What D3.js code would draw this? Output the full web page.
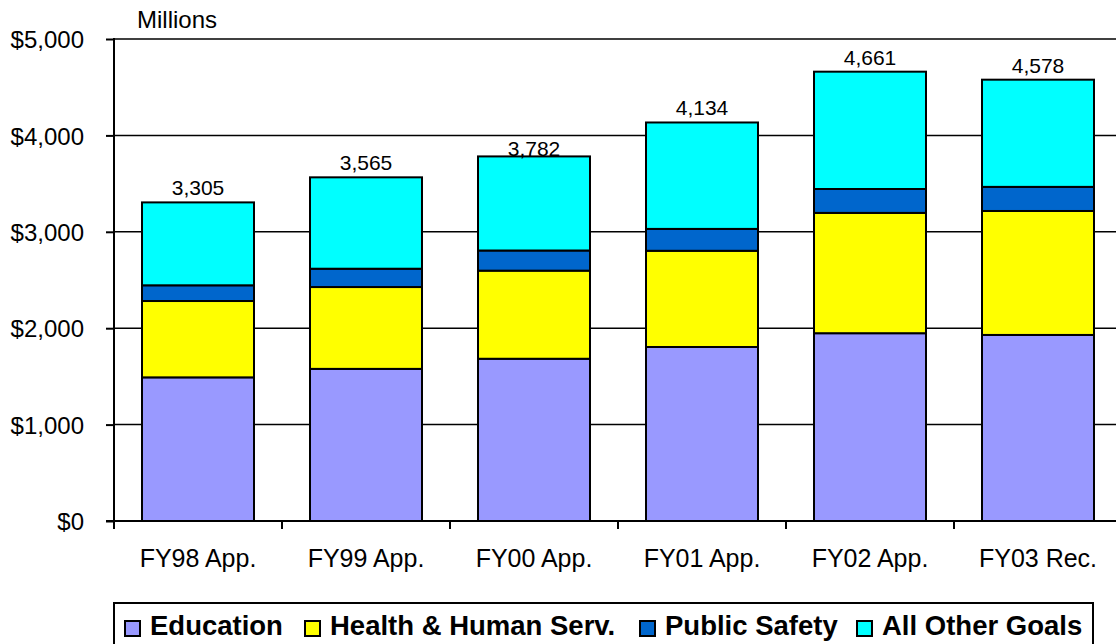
<!DOCTYPE html>
<html>
<head>
<meta charset="utf-8">
<script src="https://cdn.jsdelivr.net/npm/d3@7"></script>
<style>
  body { margin: 0; background: #fff; }
  svg { display: block; font-family: "Liberation Sans", Arial, sans-serif; }
</style>
</head>
<body>
<div id="chart"></div>
<script>
const width = 1116, height = 644;

// values in $ millions
const categories = ["FY98 App.", "FY99 App.", "FY00 App.", "FY01 App.", "FY02 App.", "FY03 Rec."];
const education = [1490, 1578, 1683, 1805, 1948, 1930];
const healthHuman = [792, 849, 914, 998, 1248, 1286];
const publicSafety = [163, 190, 209, 227, 248, 250];
const allOther = [860, 948, 976, 1104, 1217, 1112];
const totals = [3305, 3565, 3782, 4134, 4661, 4578];
const seriesNames = ["Education", "Health & Human Serv.", "Public Safety", "All Other Goals"];
const seriesKeys = ["edu", "hhs", "ps", "other"];
const colors = ["#9999FF", "#FFFF00", "#0066CC", "#00FFFF"];
const yTicks = [0, 1000, 2000, 3000, 4000, 5000];

// legend layout (swatch left edges)
const legendX = [125, 305, 640, 857];

const rows = categories.map(function(c, i) {
  return { cat: c, edu: education[i], hhs: healthHuman[i], ps: publicSafety[i], other: allOther[i], total: totals[i] };
});

const svg = d3.select("#chart").append("svg")
    .attr("width", width)
    .attr("height", height);

const x = d3.scaleBand()
    .domain(categories)
    .range([114, 1122])
    .paddingInner(1 / 3)
    .paddingOuter(1 / 6);

const y = d3.scaleLinear()
    .domain([0, 5000])
    .range([521, 39]);

// gridlines
svg.append("g").selectAll("line")
  .data(yTicks.filter(d => d > 0))
  .enter().append("line")
    .attr("x1", 114).attr("x2", width)
    .attr("y1", d => y(d)).attr("y2", d => y(d))
    .style("stroke", "#000")
    .style("stroke-width", 1.5);

// y axis
const yAxis = d3.axisLeft(y)
    .tickValues(yTicks)
    .tickSize(8)
    .tickPadding(22)
    .tickFormat(d => "$" + d3.format(",")(d));

const gy = svg.append("g")
    .attr("transform", "translate(114,0)")
    .call(yAxis);
gy.select(".domain").remove();
gy.selectAll(".tick line").style("stroke", "#000").style("stroke-width", 2);
gy.selectAll("text")
    .style("font-size", "24px")
    .style("fill", "#000")
    .attr("dy", "0.36em");
gy.append("line")
    .attr("x1", 0).attr("x2", 0)
    .attr("y1", y(5000) - 1).attr("y2", y(0))
    .style("stroke", "#000")
    .style("stroke-width", 2);

// stacked bars
const stack = d3.stack().keys(seriesKeys);
const layers = stack(rows);

svg.append("g").selectAll("g")
  .data(layers)
  .enter().append("g")
    .style("fill", (d, i) => colors[i])
  .selectAll("rect")
  .data(d => d)
  .enter().append("rect")
    .attr("x", d => x(d.data.cat))
    .attr("width", x.bandwidth())
    .attr("y", d => y(d[1]))
    .attr("height", d => y(d[0]) - y(d[1]))
    .style("stroke", "#000")
    .style("stroke-width", 2);

// x axis
const xAxis = d3.axisBottom(x).tickSize(0).tickPadding(28);
const gx = svg.append("g")
    .attr("transform", "translate(0," + y(0) + ")")
    .call(xAxis);
gx.select(".domain").remove();
gx.selectAll("text")
    .style("font-size", "25px")
    .style("fill", "#000");
gx.append("line")
    .attr("x1", 106).attr("x2", width)
    .attr("y1", 0).attr("y2", 0)
    .style("stroke", "#000")
    .style("stroke-width", 2);
// tick marks sit between the categories
gx.selectAll(".sep")
  .data(categories)
  .enter().append("line")
    .attr("class", "sep")
    .attr("x1", d => x(d) - x.step() * x.paddingInner() / 2)
    .attr("x2", d => x(d) - x.step() * x.paddingInner() / 2)
    .attr("y1", 0).attr("y2", 8)
    .style("stroke", "#000")
    .style("stroke-width", 2);

// total labels above bars, nudged below a gridline if they would cross it
svg.append("g").selectAll("text")
  .data(rows)
  .enter().append("text")
    .attr("x", d => x(d.cat) + x.bandwidth() / 2)
    .attr("y", function(d) {
      let base = y(d.total) - 7;
      yTicks.forEach(function(t) {
        const g = y(t);
        if (g >= base - 16 && g <= base + 2) base = g + 21;
      });
      return base;
    })
    .attr("text-anchor", "middle")
    .style("font-size", "21px")
    .style("fill", "#000")
    .text(d => d3.format(",")(d.total));

// unit label
svg.append("text")
    .attr("x", 137)
    .attr("y", 28)
    .style("font-size", "24px")
    .text("Millions");

// legend
const legend = svg.append("g");
legend.append("rect")
    .attr("x", 114).attr("y", 603)
    .attr("width", 979).attr("height", 60)
    .style("fill", "#fff")
    .style("stroke", "#000")
    .style("stroke-width", 2);

seriesNames.forEach(function(name, i) {
  const item = legend.append("g");
  item.append("rect")
      .attr("x", legendX[i]).attr("y", 621)
      .attr("width", 15).attr("height", 15)
      .style("fill", colors[i])
      .style("stroke", "#000")
      .style("stroke-width", 2);
  item.append("text")
      .attr("x", legendX[i] + 25)
      .attr("y", 635)
      .style("font-size", "27.5px")
      .style("font-weight", "bold")
      .text(name);
});
</script>
</body>
</html>
